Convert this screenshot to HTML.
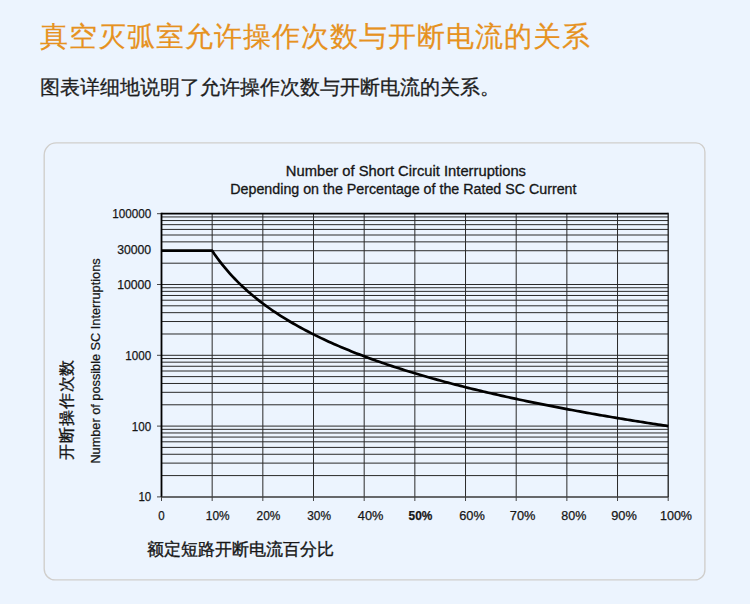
<!DOCTYPE html>
<html><head><meta charset="utf-8">
<style>
html,body{margin:0;padding:0;}
body{width:750px;height:604px;background:#ECF4FE;position:relative;overflow:hidden;font-family:"Liberation Sans",sans-serif;}
.h1{position:absolute;left:39.5px;top:18.5px;font-size:28px;letter-spacing:1px;line-height:36px;color:#E6921F;white-space:nowrap;-webkit-text-stroke:0.2px #E6921F;}
.sub{position:absolute;left:39.5px;top:74px;font-size:20px;line-height:26px;color:#1e1e1e;white-space:nowrap;-webkit-text-stroke:0.3px #1e1e1e;}
svg{position:absolute;left:0;top:0;}
</style></head><body>
<div class="h1">真空灭弧室允许操作次数与开断电流的关系</div>
<div class="sub">图表详细地说明了允许操作次数与开断电流的关系。</div>
<svg width="750" height="604" viewBox="0 0 750 604">
<path d="M56.20,142.90 H695.90 A9,9 0 0 1 704.90,151.90 V569.90 A10,10 0 0 1 694.90,579.90 H55.20 A11,11 0 0 1 44.20,568.90 V154.90 A12,12 0 0 1 56.20,142.90 Z" fill="none" stroke="#D0CECB" stroke-width="1.35"/>
<g font-family="Liberation Sans, sans-serif" fill="#161616" stroke="#161616" stroke-width="0.3" font-size="13.8">
<text x="285.8" y="176.0" textLength="240.2" lengthAdjust="spacingAndGlyphs">Number of Short Circuit Interruptions</text>
<text x="230.3" y="193.6" textLength="346.2" lengthAdjust="spacingAndGlyphs">Depending on the Percentage of the Rated SC Current</text>
</g>
<g stroke="#2a2a2a" stroke-width="1" fill="none">
<line x1="161.50" y1="475.59" x2="668.20" y2="475.59"/>
<line x1="161.50" y1="463.12" x2="668.20" y2="463.12"/>
<line x1="161.50" y1="454.27" x2="668.20" y2="454.27"/>
<line x1="161.50" y1="447.41" x2="668.20" y2="447.41"/>
<line x1="161.50" y1="441.81" x2="668.20" y2="441.81"/>
<line x1="161.50" y1="437.07" x2="668.20" y2="437.07"/>
<line x1="161.50" y1="432.96" x2="668.20" y2="432.96"/>
<line x1="161.50" y1="429.34" x2="668.20" y2="429.34"/>
<line x1="161.50" y1="426.10" x2="668.20" y2="426.10"/>
<line x1="161.50" y1="404.79" x2="668.20" y2="404.79"/>
<line x1="161.50" y1="392.32" x2="668.20" y2="392.32"/>
<line x1="161.50" y1="383.47" x2="668.20" y2="383.47"/>
<line x1="161.50" y1="376.61" x2="668.20" y2="376.61"/>
<line x1="161.50" y1="371.01" x2="668.20" y2="371.01"/>
<line x1="161.50" y1="366.27" x2="668.20" y2="366.27"/>
<line x1="161.50" y1="362.16" x2="668.20" y2="362.16"/>
<line x1="161.50" y1="358.54" x2="668.20" y2="358.54"/>
<line x1="161.50" y1="355.30" x2="668.20" y2="355.30"/>
<line x1="161.50" y1="333.99" x2="668.20" y2="333.99"/>
<line x1="161.50" y1="321.52" x2="668.20" y2="321.52"/>
<line x1="161.50" y1="312.67" x2="668.20" y2="312.67"/>
<line x1="161.50" y1="305.81" x2="668.20" y2="305.81"/>
<line x1="161.50" y1="300.21" x2="668.20" y2="300.21"/>
<line x1="161.50" y1="295.47" x2="668.20" y2="295.47"/>
<line x1="161.50" y1="291.36" x2="668.20" y2="291.36"/>
<line x1="161.50" y1="287.74" x2="668.20" y2="287.74"/>
<line x1="161.50" y1="284.50" x2="668.20" y2="284.50"/>
<line x1="161.50" y1="263.19" x2="668.20" y2="263.19"/>
<line x1="161.50" y1="250.72" x2="668.20" y2="250.72"/>
<line x1="161.50" y1="241.87" x2="668.20" y2="241.87"/>
<line x1="161.50" y1="235.01" x2="668.20" y2="235.01"/>
<line x1="161.50" y1="229.41" x2="668.20" y2="229.41"/>
<line x1="161.50" y1="224.67" x2="668.20" y2="224.67"/>
<line x1="161.50" y1="220.56" x2="668.20" y2="220.56"/>
<line x1="161.50" y1="216.94" x2="668.20" y2="216.94"/>
<line x1="212.17" y1="213.70" x2="212.17" y2="496.90"/>
<line x1="262.84" y1="213.70" x2="262.84" y2="496.90"/>
<line x1="313.51" y1="213.70" x2="313.51" y2="496.90"/>
<line x1="364.18" y1="213.70" x2="364.18" y2="496.90"/>
<line x1="414.85" y1="213.70" x2="414.85" y2="496.90"/>
<line x1="465.52" y1="213.70" x2="465.52" y2="496.90"/>
<line x1="516.19" y1="213.70" x2="516.19" y2="496.90"/>
<line x1="566.86" y1="213.70" x2="566.86" y2="496.90"/>
<line x1="617.53" y1="213.70" x2="617.53" y2="496.90"/>
</g>
<g stroke="#444" stroke-width="1" fill="none">
<line x1="157" y1="496.90" x2="161.50" y2="496.90"/>
<line x1="157" y1="426.10" x2="161.50" y2="426.10"/>
<line x1="157" y1="355.30" x2="161.50" y2="355.30"/>
<line x1="157" y1="284.50" x2="161.50" y2="284.50"/>
<line x1="157" y1="213.70" x2="161.50" y2="213.70"/>
<line x1="161.50" y1="496.90" x2="161.50" y2="501"/>
<line x1="212.17" y1="496.90" x2="212.17" y2="501"/>
<line x1="262.84" y1="496.90" x2="262.84" y2="501"/>
<line x1="313.51" y1="496.90" x2="313.51" y2="501"/>
<line x1="364.18" y1="496.90" x2="364.18" y2="501"/>
<line x1="414.85" y1="496.90" x2="414.85" y2="501"/>
<line x1="465.52" y1="496.90" x2="465.52" y2="501"/>
<line x1="516.19" y1="496.90" x2="516.19" y2="501"/>
<line x1="566.86" y1="496.90" x2="566.86" y2="501"/>
<line x1="617.53" y1="496.90" x2="617.53" y2="501"/>
<line x1="668.20" y1="496.90" x2="668.20" y2="501"/>
</g>
<line x1="161.50" y1="213.70" x2="668.20" y2="213.70" stroke="#000" stroke-width="1.8"/>
<line x1="161.50" y1="212.80" x2="161.50" y2="496.90" stroke="#000" stroke-width="1.8"/>
<line x1="668.20" y1="212.80" x2="668.20" y2="496.90" stroke="#1a1a1a" stroke-width="1.3"/>
<line x1="161.50" y1="496.90" x2="668.20" y2="496.90" stroke="#3a3a3a" stroke-width="1.5"/>
<polyline points="161.50,250.72 212.17,250.72 214.70,254.44 217.24,257.98 219.77,261.36 222.30,264.61 224.84,267.72 227.37,270.70 229.90,273.58 232.44,276.35 234.97,279.02 237.50,281.60 240.04,284.10 242.57,286.52 245.11,288.86 247.64,291.13 250.17,293.34 252.71,295.49 255.24,297.57 257.77,299.61 260.31,301.58 262.84,303.51 265.37,305.39 267.91,307.23 270.44,309.02 272.97,310.77 275.51,312.48 278.04,314.16 280.57,315.79 283.11,317.40 285.64,318.97 288.18,320.51 290.71,322.02 293.24,323.49 295.78,324.95 298.31,326.37 300.84,327.77 303.38,329.14 305.91,330.49 308.44,331.81 310.98,333.11 313.51,334.39 316.04,335.65 318.58,336.89 321.11,338.11 323.64,339.31 326.18,340.49 328.71,341.65 331.24,342.80 333.78,343.93 336.31,345.04 338.85,346.13 341.38,347.21 343.91,348.28 346.45,349.33 348.98,350.37 351.51,351.39 354.05,352.40 356.58,353.39 359.11,354.38 361.65,355.35 364.18,356.30 366.71,357.25 369.25,358.18 371.78,359.11 374.31,360.02 376.85,360.92 379.38,361.81 381.91,362.69 384.45,363.56 386.98,364.42 389.52,365.27 392.05,366.12 394.58,366.95 397.12,367.77 399.65,368.59 402.18,369.39 404.72,370.19 407.25,370.98 409.78,371.76 412.32,372.53 414.85,373.30 417.38,374.06 419.92,374.81 422.45,375.55 424.98,376.29 427.52,377.02 430.05,377.74 432.58,378.45 435.12,379.16 437.65,379.86 440.19,380.56 442.72,381.25 445.25,381.93 447.79,382.61 450.32,383.28 452.85,383.94 455.39,384.60 457.92,385.26 460.45,385.91 462.99,386.55 465.52,387.19 468.05,387.82 470.59,388.44 473.12,389.07 475.65,389.68 478.19,390.29 480.72,390.90 483.25,391.50 485.79,392.10 488.32,392.69 490.86,393.28 493.39,393.87 495.92,394.44 498.46,395.02 500.99,395.59 503.52,396.16 506.06,396.72 508.59,397.28 511.12,397.83 513.66,398.38 516.19,398.93 518.72,399.47 521.26,400.01 523.79,400.54 526.32,401.07 528.86,401.60 531.39,402.12 533.92,402.64 536.46,403.16 538.99,403.67 541.52,404.18 544.06,404.69 546.59,405.19 549.13,405.69 551.66,406.19 554.19,406.68 556.73,407.17 559.26,407.65 561.79,408.14 564.33,408.62 566.86,409.10 569.39,409.57 571.93,410.04 574.46,410.51 576.99,410.98 579.53,411.44 582.06,411.90 584.59,412.36 587.13,412.81 589.66,413.26 592.20,413.71 594.73,414.16 597.26,414.60 599.80,415.05 602.33,415.48 604.86,415.92 607.40,416.36 609.93,416.79 612.46,417.22 615.00,417.64 617.53,418.07 620.06,418.49 622.60,418.91 625.13,419.33 627.66,419.74 630.20,420.15 632.73,420.56 635.26,420.97 637.80,421.38 640.33,421.78 642.87,422.18 645.40,422.58 647.93,422.98 650.47,423.38 653.00,423.77 655.53,424.16 658.07,424.55 660.60,424.94 663.13,425.33 665.67,425.71 668.20,426.09" fill="none" stroke="#000" stroke-width="2.7" stroke-linejoin="round"/>
<g font-family="Liberation Sans, sans-serif" fill="#161616" stroke="#161616" stroke-width="0.25" font-size="12.6">
<text x="112.20" y="218.10" textLength="39.00" lengthAdjust="spacingAndGlyphs">100000</text>
<text x="117.15" y="254.12" textLength="34.05" lengthAdjust="spacingAndGlyphs">30000</text>
<text x="117.15" y="288.90" textLength="34.05" lengthAdjust="spacingAndGlyphs">10000</text>
<text x="125.30" y="359.70" textLength="25.90" lengthAdjust="spacingAndGlyphs">1000</text>
<text x="131.85" y="430.50" textLength="19.35" lengthAdjust="spacingAndGlyphs">100</text>
<text x="138.40" y="501.30" textLength="12.80" lengthAdjust="spacingAndGlyphs">10</text>
<text x="158.30" y="519.7" textLength="6.4" lengthAdjust="spacingAndGlyphs">0</text>
<text x="205.87" y="519.7" textLength="23.80" lengthAdjust="spacingAndGlyphs">10%</text>
<text x="256.54" y="519.7" textLength="23.80" lengthAdjust="spacingAndGlyphs">20%</text>
<text x="307.21" y="519.7" textLength="23.80" lengthAdjust="spacingAndGlyphs">30%</text>
<text x="357.88" y="519.7" textLength="25.60" lengthAdjust="spacingAndGlyphs">40%</text>
<text x="408.55" y="519.7" font-weight="bold" textLength="23.80" lengthAdjust="spacingAndGlyphs">50%</text>
<text x="459.22" y="519.7" textLength="25.60" lengthAdjust="spacingAndGlyphs">60%</text>
<text x="509.89" y="519.7" textLength="25.60" lengthAdjust="spacingAndGlyphs">70%</text>
<text x="561.36" y="519.7" textLength="25.10" lengthAdjust="spacingAndGlyphs">80%</text>
<text x="611.23" y="519.7" textLength="25.60" lengthAdjust="spacingAndGlyphs">90%</text>
<text x="659.95" y="519.7" textLength="32.10" lengthAdjust="spacingAndGlyphs">100%</text>
</g>
<text transform="translate(100.3,463.6) rotate(-90)" font-family="Liberation Sans, sans-serif" font-size="13.2" fill="#161616" stroke="#161616" stroke-width="0.25" textLength="205.2" lengthAdjust="spacingAndGlyphs">Number of possible SC Interruptions</text>
<text transform="translate(72,459.5) rotate(-90)" font-family="Liberation Sans, sans-serif" font-size="16" letter-spacing="0.8" fill="#161616" stroke="#161616" stroke-width="0.35">开断操作次数</text>
<text x="147.3" y="555" font-family="Liberation Sans, sans-serif" font-size="16.8" fill="#161616" stroke="#161616" stroke-width="0.35">额定短路开断电流百分比</text>
</svg>
</body></html>
